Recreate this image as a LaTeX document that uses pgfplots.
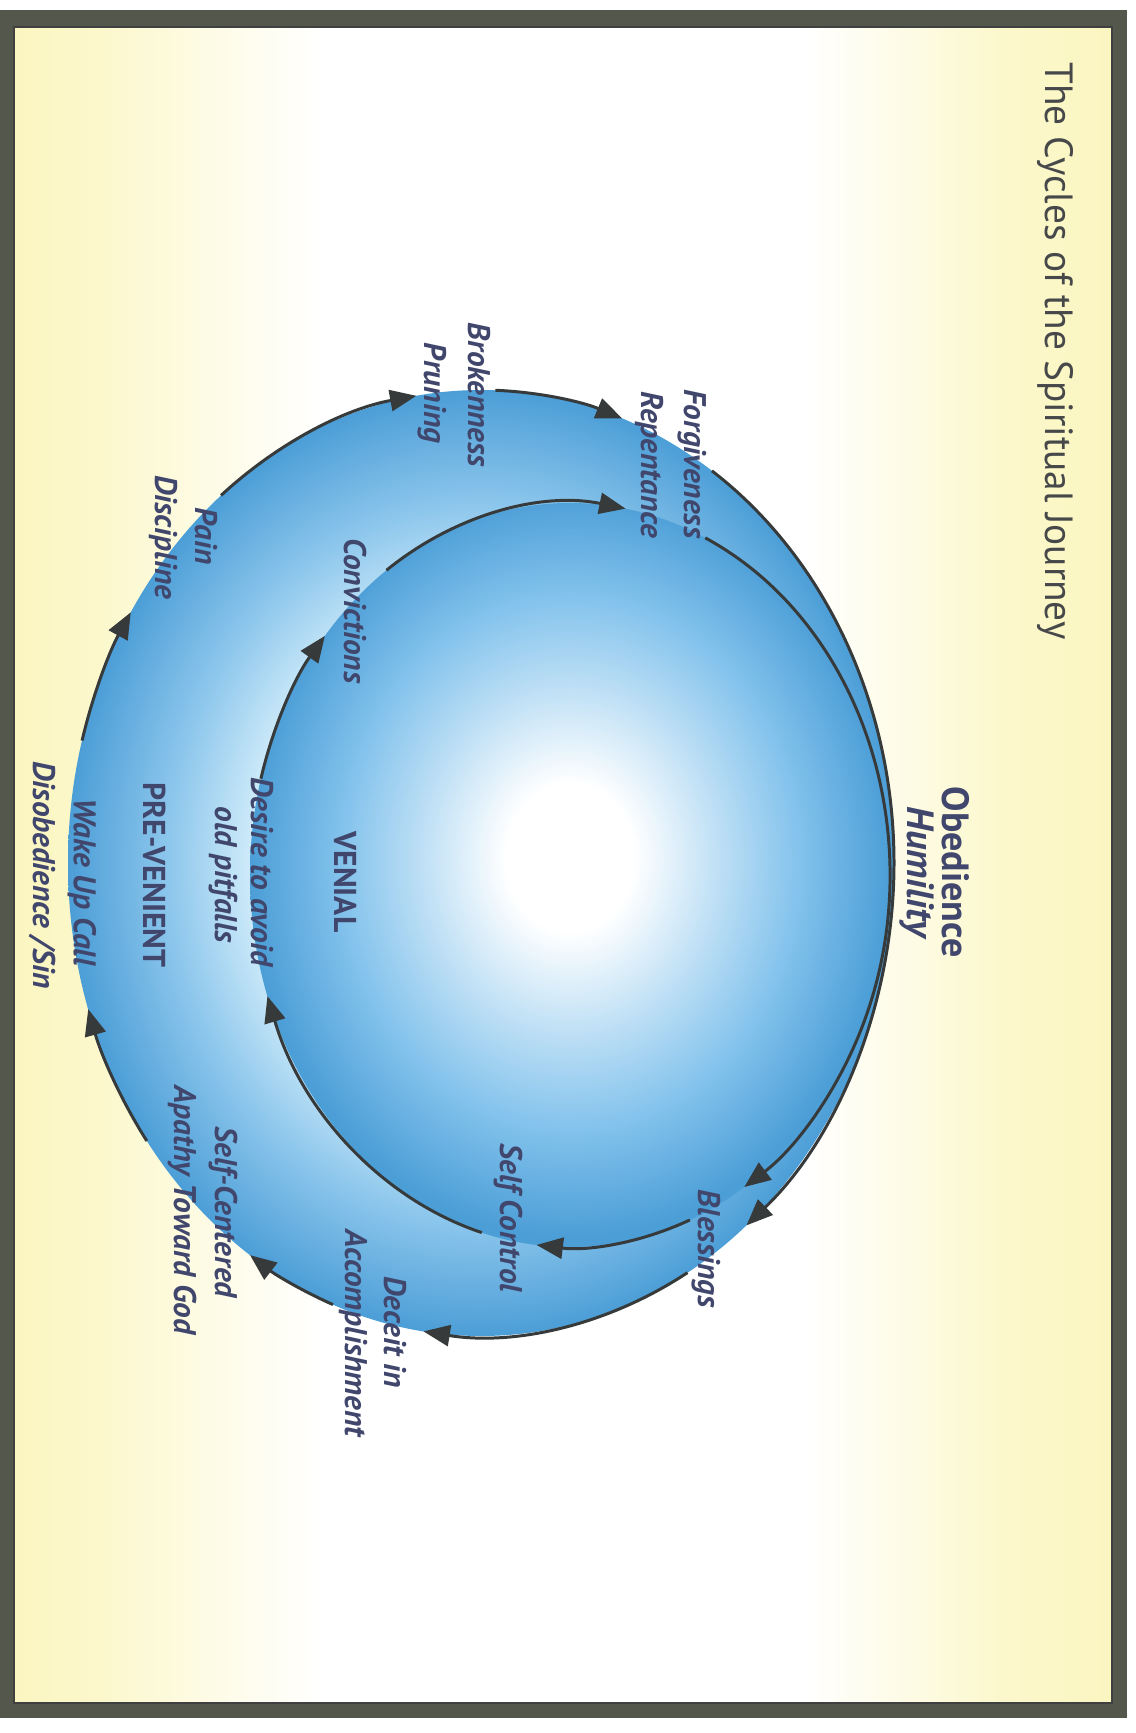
\documentclass[border=0pt]{standalone}
\usepackage{pgfplots}
\pgfplotsset{compat=1.18}
\usepackage{fontspec}
\setmainfont{PT Sans}
\usetikzlibrary{arrows.meta}

\definecolor{frame}{RGB}{84,88,76}
\definecolor{paper}{RGB}{251,246,192}
\definecolor{ringedge}{RGB}{76,158,215}
\definecolor{ringmid}{RGB}{140,198,236}
\definecolor{ringlight}{RGB}{205,234,249}
\definecolor{ballmid}{RGB}{130,194,236}
\definecolor{labtext}{RGB}{64,70,108}
\definecolor{titletext}{RGB}{70,72,74}
\definecolor{arcline}{RGB}{55,58,58}

\pgfdeclareradialshading{ring}{\pgfpoint{0bp}{0bp}}{color(0bp)=(ringlight); color(14bp)=(ringlight); color(19bp)=(ringmid); color(25bp)=(ringedge); color(50bp)=(ringedge)}
\pgfdeclareradialshading{ball}{\pgfpoint{0bp}{1.3bp}}{color(0bp)=(white); color(5bp)=(white); color(12bp)=(ballmid!55!white); color(18bp)=(ballmid); color(25bp)=(ringedge); color(50bp)=(ringedge)}
\pgfdeclarehorizontalshading{paperfade}{100bp}{color(0bp)=(paper); color(25bp)=(paper); color(29bp)=(paper!80!white); color(39bp)=(white); color(61bp)=(white); color(70bp)=(paper!80!white); color(75bp)=(paper); color(100bp)=(paper)}

% outer cycle (pre-venient) and inner cycle (venial), image pixel units
\newcommand{\oarc}[2]{\draw[cyc] (axis cs:481,863) ++(#1:41.3mm and 47.3mm) arc[start angle=#1, end angle=#2, x radius=41.3mm, y radius=47.3mm];}
\newcommand{\iarc}[2]{\draw[cyc] (axis cs:570,875) ++(#1:32mm and 37.2mm) arc[start angle=#1, end angle=#2, x radius=32mm, y radius=37.2mm];}

\begin{document}
\begin{tikzpicture}[cyc/.style={arcline, line width=0.85pt, -{Triangle[length=7.5pt,width=6pt]}}]
\begin{axis}[
    width=11.35cm, height=17.33cm,
    scale only axis,
    xmin=0, xmax=1135, ymin=0, ymax=1733,
    y dir=reverse,
    hide axis,
    clip=false,
]
  % page and frame
  \fill[white] (axis cs:0,0) rectangle (axis cs:1135,1733);
  \fill[frame] (axis cs:0,10) rectangle (axis cs:1127,1718);
  \shade[shading=paperfade] (axis cs:14,27) rectangle (axis cs:1112,1703);
  \draw[black!75, line width=0.3pt] (axis cs:14,27) rectangle (axis cs:1112,1703);

  % the two cycles
  \shade[shading=ring] (axis cs:481,863) ellipse[x radius=41.3mm, y radius=47.3mm];
  \shade[shading=ball] (axis cs:570,875) ellipse[x radius=32mm, y radius=37.2mm];

  \oarc{165}{148} \oarc{129}{99} \oarc{88}{70} \oarc{56}{-50}
  \oarc{-60}{-98} \oarc{-111}{-124} \oarc{-144}{-162}

  \iarc{65}{-57} \iarc{-68}{-96} \iarc{-106}{-161}
  \iarc{165}{140} \iarc{125}{80}

  % italic labels
  \addplot[draw=none, mark=none, point meta=explicit symbolic,
    nodes near coords, nodes near coords align={center},
    every node near coord/.style={anchor=center, rotate=-90, inner sep=0pt,
      text=labtext, font=\fontsize{8.9}{10}\selectfont\bfseries\itshape}]
    table[x=x, y=y, meta=label, col sep=comma, row sep=\\] {
    x,y,label\\
    692,464,Forgiveness\\
    649,465,Repentance\\
    479,395,Brokenness\\
    432,393,Pruning\\
    206,536,Pain\\
    163,537,Discipline\\
    355,611,Convictions\\
    262,872,Desire to avoid\\
    223,875,old pitfalls\\
    82,882,Wake Up Call\\
    42,875,Disobedience /Sin\\
    223,1212,Self-Centered\\
    182,1210,Apathy Toward God\\
    395,1332,Deceit in\\
    353,1333,Accomplishment\\
    508,1218,Self Control\\
    706,1249,Blessings\\
    };

  % upright labels
  \addplot[draw=none, mark=none, point meta=explicit symbolic,
    nodes near coords, nodes near coords align={center},
    every node near coord/.style={anchor=center, rotate=-90, inner sep=0pt,
      text=labtext, font=\fontsize{9}{10}\selectfont\bfseries}]
    table[x=x, y=y, meta=label, col sep=comma, row sep=\\] {
    x,y,label\\
    346,882,VENIAL\\
    155,875,PRE-VENIENT\\
    };

  % Obedience / Humility
  \addplot[draw=none, mark=none, point meta=explicit symbolic,
    nodes near coords, nodes near coords align={center},
    every node near coord/.style={anchor=center, rotate=-90, inner sep=0pt,
      text=labtext, font=\fontsize{10.8}{12}\selectfont\bfseries}]
    table[x=x, y=y, meta=label, col sep=comma, row sep=\\] {
    x,y,label\\
    956,872,Obedience\\
    };
  \addplot[draw=none, mark=none, point meta=explicit symbolic,
    nodes near coords, nodes near coords align={center},
    every node near coord/.style={anchor=center, rotate=-90, inner sep=0pt,
      text=labtext, font=\fontsize{10.8}{12}\selectfont\bfseries\itshape}]
    table[x=x, y=y, meta=label, col sep=comma, row sep=\\] {
    x,y,label\\
    917,872,Humility\\
    };

  % title
  \addplot[draw=none, mark=none, point meta=explicit symbolic,
    nodes near coords, nodes near coords align={center},
    every node near coord/.style={anchor=center, rotate=-90, inner sep=0pt,
      text=titletext, font=\fontsize{11.2}{13}\selectfont}]
    table[x=x, y=y, meta=label, col sep=comma, row sep=\\] {
    x,y,label\\
    1055,351,The Cycles of the Spiritual Journey\\
    };

  \path (axis cs:0,0) rectangle (axis cs:1135,1733);
\end{axis}
\end{tikzpicture}
\end{document}
